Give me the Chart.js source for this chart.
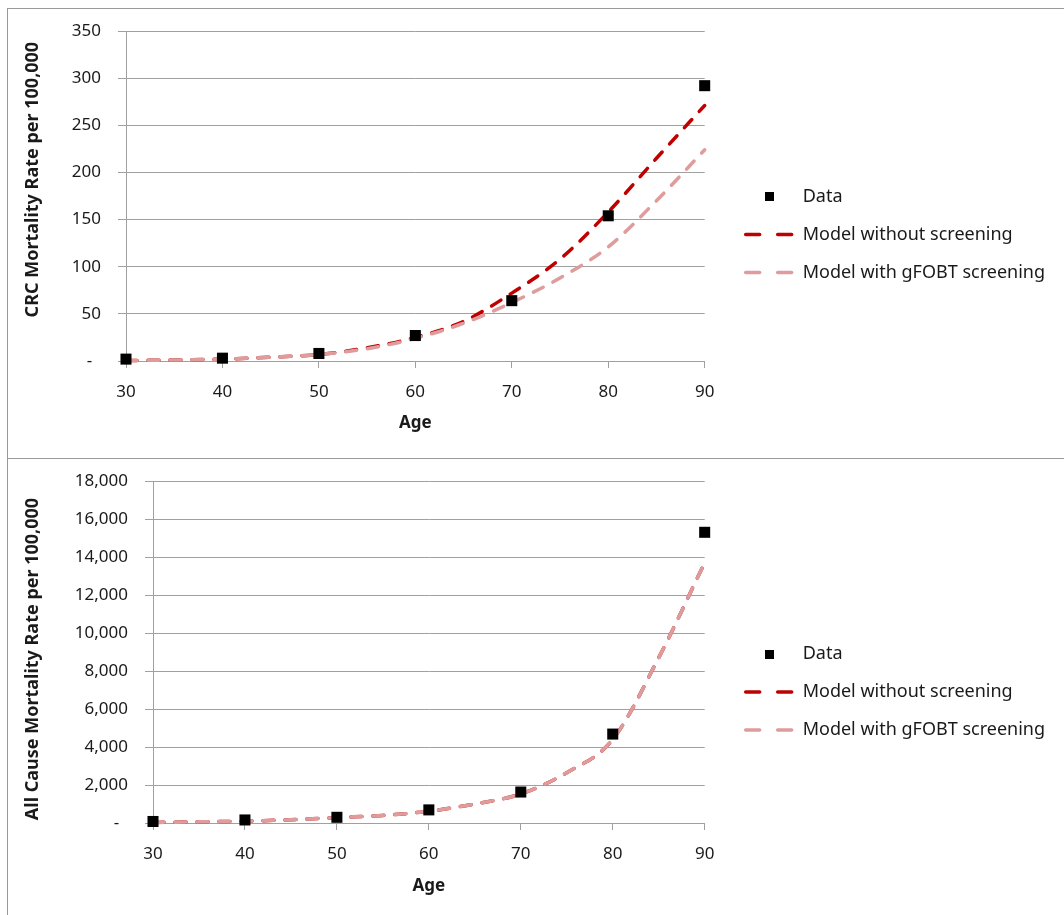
<!DOCTYPE html>
<html>
<head>
<meta charset="utf-8">
<script src="https://cdn.jsdelivr.net/npm/chart.js@4.4.1/dist/chart.umd.min.js"></script>
<style>
  html, body { margin: 0; padding: 0; background: #fff; width: 1064px; height: 915px; overflow: hidden; }
  .panel { position: absolute; left: 7px; width: 1200px; border-left: 1px solid #999; box-sizing: border-box; }
  #p1 { top: 8px; height: 451px; border-top: 1px solid #999; border-bottom: 1px solid #999; }
  #p2 { top: 458px; height: 470px; }
  canvas { position: absolute; left: 0; top: 0; }
</style>
</head>
<body>
<div class="panel" id="p1"><canvas id="c1" width="1056" height="449"></canvas></div>
<div class="panel" id="p2"><canvas id="c2" width="1056" height="462"></canvas></div>
<script>
// ---- data ----
const dataAges = [30, 40, 50, 60, 70, 80, 90];
const modelAges = [30, 35, 40, 45, 50, 55, 60, 65, 70, 75, 80, 85, 90];

const crcData = [2, 3, 8, 27, 64, 154, 292];
const crcNoScreening = [0.5, 1, 2, 4, 7, 14, 25, 42, 72, 108, 158, 215, 271];
const crcGfobt = [0.5, 1, 2, 4, 7, 13, 24, 40, 62, 88, 121, 170, 224];

const allData = [80, 160, 300, 690, 1630, 4680, 15300];
const allNoScreening = [30, 60, 100, 170, 290, 400, 620, 1000, 1530, 2650, 4400, 8700, 13700];
const allGfobt = [30, 60, 100, 170, 290, 400, 620, 1000, 1530, 2650, 4400, 8700, 13700];

const seriesNames = ['Data', 'Model without screening', 'Model with gFOBT screening'];
const xTicks = [30, 40, 50, 60, 70, 80, 90];
const crcYTicks = [0, 50, 100, 150, 200, 250, 300, 350];
const allYTicks = [0, 2000, 4000, 6000, 8000, 10000, 12000, 14000, 16000, 18000];

// ---- styling ----
const FONT = "'Noto Sans', 'Open Sans', sans-serif";
const TEXT = '#1a1a1a';
const GRID = '#a0a0a0';
const DARK = '#c00000';
const LIGHT = '#df9c9c';
const LEGEND_SIZE = 18;

const sq = document.createElement('canvas');
sq.width = 9; sq.height = 9;
(function(){ const c = sq.getContext('2d'); c.fillStyle = '#000'; c.fillRect(0, 0, 9, 9); })();

// measure legend width so the plot area keeps its place
const mctx = document.createElement('canvas').getContext('2d');
mctx.font = LEGEND_SIZE + "px " + FONT;
const maxTextW = Math.max(...seriesNames.map(s => mctx.measureText(s).width));
const legendMaxW = Math.ceil(20 + 48 + LEGEND_SIZE / 2 + maxTextW + 10);
const padRight = Math.max(0, 1056 - 696 - 21 - legendMaxW);

function pts(xs, ys) { return xs.map((x, i) => ({ x: x, y: ys[i] })); }

function makeChart(id, cfg) {
  const yTicks = cfg.yTicks;
  const yMax = yTicks[yTicks.length - 1];
  return new Chart(document.getElementById(id), {
    type: 'line',
    data: {
      datasets: [
        { label: seriesNames[0], data: pts(dataAges, cfg.dataVals), showLine: false, clip: false,
          pointStyle: 'rect', pointRadius: 7.8, pointHoverRadius: 7.8,
          backgroundColor: '#000', borderColor: '#000', pointBorderWidth: 0, order: 0 },
        { label: seriesNames[1], data: pts(modelAges, cfg.noScr), borderColor: DARK, backgroundColor: DARK, clip: false,
          borderWidth: 3.5, borderDash: [11, 11], borderCapStyle: 'round', pointRadius: 0,
          pointStyle: 'line', cubicInterpolationMode: 'monotone', fill: false, order: 2 },
        { label: seriesNames[2], data: pts(modelAges, cfg.gfobt), borderColor: LIGHT, backgroundColor: LIGHT, clip: false,
          borderWidth: 3.5, borderDash: [11, 11], borderCapStyle: 'round', pointRadius: 0,
          pointStyle: 'line', cubicInterpolationMode: 'monotone', fill: false, order: 1 }
      ]
    },
    options: {
      responsive: false,
      animation: false,
      devicePixelRatio: 1,
      layout: { padding: { top: cfg.padTop, bottom: cfg.padBottom, left: 0, right: padRight } },
      plugins: {
        tooltip: { enabled: false },
        legend: {
          position: 'right',
          align: 'center',
          maxWidth: legendMaxW,
          labels: {
            usePointStyle: true,
            pointStyleWidth: 48,
            padding: 20,
            color: TEXT,
            font: { family: FONT, size: LEGEND_SIZE },
            sort: (a, b) => a.datasetIndex - b.datasetIndex,
            generateLabels: (chart) => {
              const items = Chart.defaults.plugins.legend.labels.generateLabels(chart);
              items.forEach(it => {
                if (it.datasetIndex === 0) {
                  it.pointStyle = sq;
                } else {
                  it.pointStyle = 'line';
                  it.lineDash = [14, 18];
                  it.lineWidth = 3.5;
                  it.lineCap = 'round';
                }
              });
              return items;
            }
          }
        }
      },
      scales: {
        x: {
          type: 'linear', position: 'bottom', min: 30, max: 90,
          afterBuildTicks: (s) => { s.ticks = xTicks.map(v => ({ value: v })); },
          afterFit: (s) => { s.height = cfg.xHeight; },
          grid: { drawOnChartArea: false, drawTicks: true, tickLength: 7, color: GRID, lineWidth: 1 },
          border: { display: true, color: GRID, width: 1 },
          ticks: { color: TEXT, font: { family: FONT, size: 17 }, padding: 14, maxRotation: 0 },
          title: { display: true, text: 'Age', color: TEXT, font: { family: FONT, size: 17, weight: 'bold' }, padding: { top: 0, bottom: cfg.titlePadB } }
        },
        y: {
          type: 'linear', position: 'left', min: 0, max: yMax,
          afterBuildTicks: (s) => { s.ticks = yTicks.map(v => ({ value: v })); },
          afterFit: (s) => { s.width = cfg.yWidth; s.paddingTop = 0; s.paddingBottom = 0; },
          grid: { drawOnChartArea: true, drawTicks: true, tickLength: 8, color: GRID, lineWidth: 1 },
          border: { display: true, color: GRID, width: 1 },
          ticks: { color: TEXT, font: { family: FONT, size: 17 }, padding: 17,
                   callback: (v) => v === 0 ? '-  ' : v.toLocaleString('en-US') },
          title: { display: true, text: cfg.yTitle, color: TEXT, font: { family: FONT, size: 18, weight: 'bold' }, padding: { top: 14, bottom: 0 } }
        },
        yR: {
          type: 'linear', position: 'right', display: true,
          grid: { display: false }, border: { display: false }, ticks: { display: false },
          afterFit: (s) => { s.width = 21; s.paddingTop = 0; s.paddingBottom = 0; }
        }
      }
    }
  });
}

makeChart('c1', { dataVals: crcData, noScr: crcNoScreening, gfobt: crcGfobt, yTicks: crcYTicks,
  yTitle: '       CRC Mortality Rate per 100,000', yWidth: 118, padTop: 22, padBottom: 20, xHeight: 77, titlePadB: 5 });
makeChart('c2', { dataVals: allData, noScr: allNoScreening, gfobt: allGfobt, yTicks: allYTicks,
  yTitle: 'All Cause Mortality Rate per 100,000   ', yWidth: 145, padTop: 23, padBottom: 17, xHeight: 80, titlePadB: 7 });
</script>
</body>
</html>
